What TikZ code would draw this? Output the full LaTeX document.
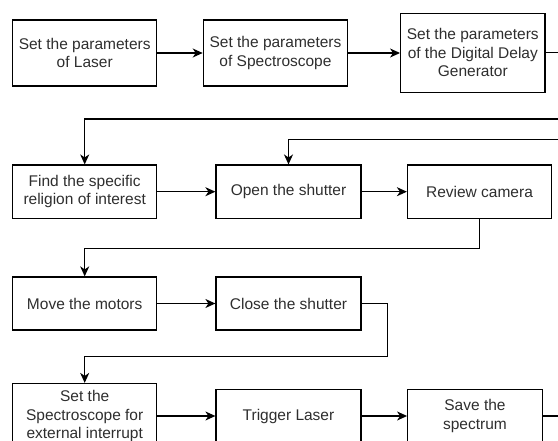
\documentclass[tikz,border=0pt]{standalone}
\usepackage{fontspec}
\setmainfont{Liberation Sans}
\usetikzlibrary{arrows.meta}
\begin{document}
\begin{tikzpicture}[x=1pt,y=-1pt,
  box/.style={draw=black, line width=1.2pt, align=center, inner sep=0pt, text=black!82,
    font=\fontsize{15.5}{18.5}\selectfont},
  arr/.style={draw=black, line width=1.2pt, -{Stealth[length=10pt,width=9pt,inset=3pt]}},
  ln/.style={draw=black, line width=1.2pt}]
\useasboundingbox (0,0) rectangle (558,441);
% row 1
\node[box, minimum width=144pt, minimum height=66pt] (b1) at (84.7,53) {Set the parameters\\of Laser};
\node[box, minimum width=144.4pt, minimum height=66pt] (b2) at (275.5,53) {Set the parameters\\of Spectroscope};
\node[box, minimum width=144.3pt, minimum height=79pt] (b3) at (472.8,52.8) {Set the parameters\\of the Digital Delay\\Generator};
% row 2
\node[box, minimum width=144pt, minimum height=53.3pt] (b4) at (84.7,191.7) {Find the specific\\religion of interest};
\node[box, minimum width=145pt, minimum height=53.3pt] (b5) at (288.5,191.7) {Open the shutter};
\node[box, minimum width=144pt, minimum height=53.3pt] (b6) at (479.5,191.7) {Review camera};
% row 3
\node[box, minimum width=144pt, minimum height=53pt] (b7) at (84.7,303.5) {Move the motors};
\node[box, minimum width=145pt, minimum height=53pt] (b8) at (288.5,303.5) {Close the shutter};
% row 4
\node[box, minimum width=144pt, minimum height=65pt] (b9) at (84.7,416) {Set the\\Spectroscope for\\external interrupt};
\node[box, minimum width=145pt, minimum height=53.3pt] (b10) at (288.5,416) {Trigger Laser};
\node[box, minimum width=134.6pt, minimum height=53.3pt] (b11) at (475,416) {Save the\\spectrum};
% free ends and bends
\coordinate (e1) at (558,52.8);
\coordinate (e2) at (558,119);
\coordinate (e3) at (558,139.3);
\coordinate (e4) at (558,416);
\coordinate (k1) at (0,248.3);
\coordinate (k2) at (387.3,356.7);
% connectors
\draw[arr] (b1) -- (b2);
\draw[arr] (b2.east) -- (b2.east -| b3.west);
\draw[ln] (b3.east |- e1) -- (e1);
\draw[arr] (e2) -| (b4);
\draw[arr] (e3) -| (b5);
\draw[arr] (b4) -- (b5);
\draw[arr] (b5) -- (b6);
\draw[arr] (b6.south) -- (b6.south |- k1) -| (b7.north);
\draw[arr] (b7) -- (b8);
\draw[arr] (b8.east) -- (k2 |- b8.east) -- (k2) -| (b9.north);
\draw[arr] (b9) -- (b10);
\draw[arr] (b10) -- (b11);
\draw[ln] (b11) -- (e4);
\end{tikzpicture}
\end{document}
